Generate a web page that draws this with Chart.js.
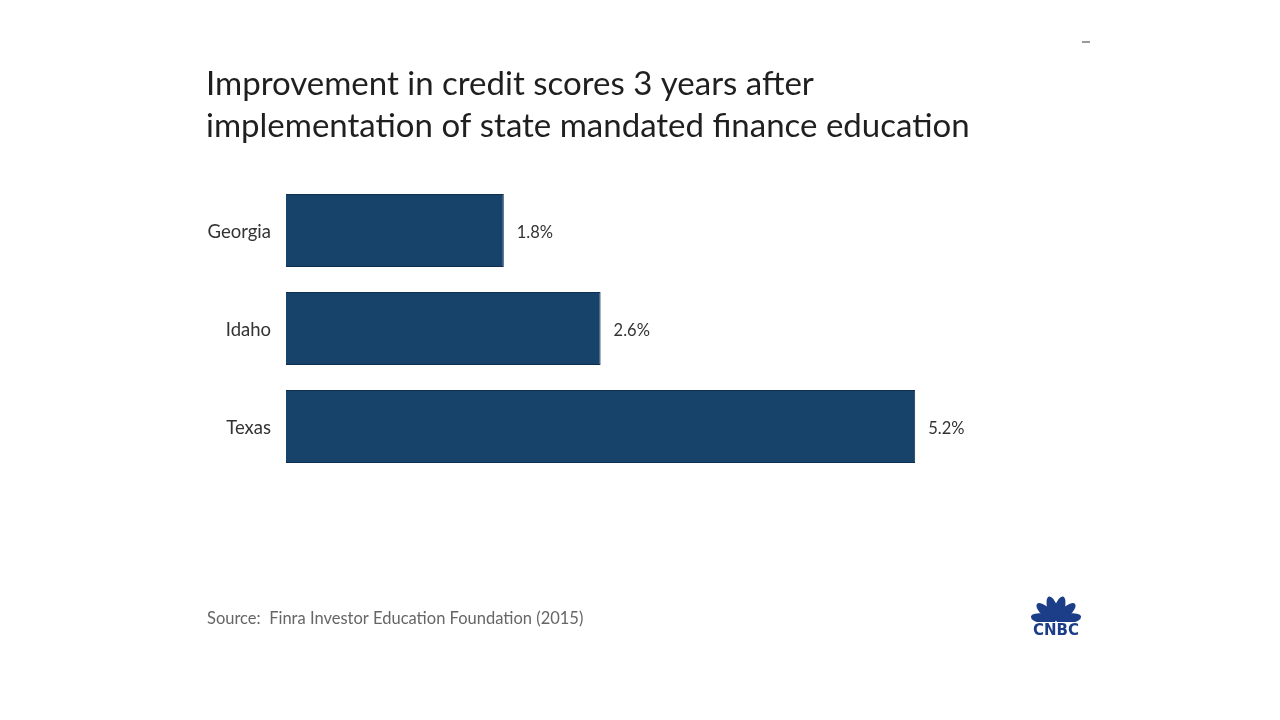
<!DOCTYPE html>
<html><head><meta charset="utf-8">
<script src="https://cdn.jsdelivr.net/npm/chart.js@4.4.1/dist/chart.umd.min.js"></script>
<style>html,body{margin:0;padding:0;background:#fff;}#wrap{width:1280px;height:720px;position:relative;}</style>
</head><body><div id="wrap"><canvas id="c" width="1280" height="720"></canvas></div>
<script>
const categories = ["Georgia", "Idaho", "Texas"];
const values = [1.8, 2.6, 5.2];
const valueLabels = ["1.8%", "2.6%", "5.2%"];
const titleLines = ["Improvement in credit scores 3 years after", "implementation of state mandated finance education"];
const sourceText = "Source:  Finra Investor Education Foundation (2015)";

const FONT = "Lato, 'Open Sans', sans-serif";

const decor = {
  id: 'decor',
  afterDraw(chart) {
    const ctx = chart.ctx;
    ctx.save();
    // title
    ctx.fillStyle = '#1f1f1f';
    ctx.font = `33px ${FONT}`;
    ctx.textBaseline = 'alphabetic';
    ctx.textAlign = 'left';
    ctx.fillText(titleLines[0], 206, 95);
    ctx.fillText(titleLines[1], 206, 137);
    // value labels
    const meta = chart.getDatasetMeta(0);
    ctx.font = `16.5px ${FONT}`;
    ctx.fillStyle = '#333';
    ctx.textBaseline = 'middle';
    meta.data.forEach((bar, i) => {
      ctx.fillText(valueLabels[i], bar.x + 13, bar.y + 2);
    });
    // source
    ctx.font = `16.5px ${FONT}`;
    ctx.fillStyle = '#666';
    ctx.textBaseline = 'alphabetic';
    ctx.fillText(sourceText, 207, 624);
    // small dash top right
    ctx.fillStyle = '#9a9a9a';
    ctx.fillRect(1082, 41, 8, 2);
    // CNBC logo
    const cx = 1056, cy = 621;
    const angles = [-170, -138, -106, -74, -42, -10];
    angles.forEach((a) => {
      const r = a * Math.PI / 180;
      ctx.save();
      ctx.translate(cx + Math.cos(r) * 13, cy + Math.sin(r) * 13);
      ctx.rotate(r + Math.PI / 2);
      ctx.beginPath();
      ctx.ellipse(0, 0, 5, 12.5, 0, 0, Math.PI * 2);
      ctx.fillStyle = '#1c3d88';
      ctx.fill();
      ctx.restore();
    });
    ctx.fillStyle = '#fff';
    ctx.fillRect(cx - 30, cy + 1, 60, 20);
    ctx.font = `bold 15px 'DejaVu Sans', sans-serif`;
    ctx.fillStyle = '#1c3d88';
    ctx.textAlign = 'center';
    ctx.textBaseline = 'alphabetic';
    ctx.fillText('CNBC', cx, 635);
    ctx.restore();
  }
};

new Chart(document.getElementById('c'), {
  type: 'bar',
  data: {
    labels: categories,
    datasets: [{
      data: values,
      backgroundColor: '#17426A',
      borderColor: '#0f2f50',
      borderWidth: 1,
      barPercentage: 0.745,
      categoryPercentage: 1.0
    }]
  },
  options: {
    indexAxis: 'y',
    responsive: false,
    animation: false,
    layout: { padding: { left: 200, top: 181.5, right: 268, bottom: 244.5 } },
    plugins: { legend: { display: false }, tooltip: { enabled: false }, title: { display: false } },
    scales: {
      x: { display: false, min: 0, max: 6 },
      y: {
        grid: { display: false, drawTicks: false },
        border: { display: false },
        ticks: { color: '#333', font: { family: FONT, size: 18.5 }, padding: 15, labelOffset: 2 },
        afterFit(scale) { scale.width = 86; }
      }
    }
  },
  plugins: [decor]
});
</script>
</body></html>
